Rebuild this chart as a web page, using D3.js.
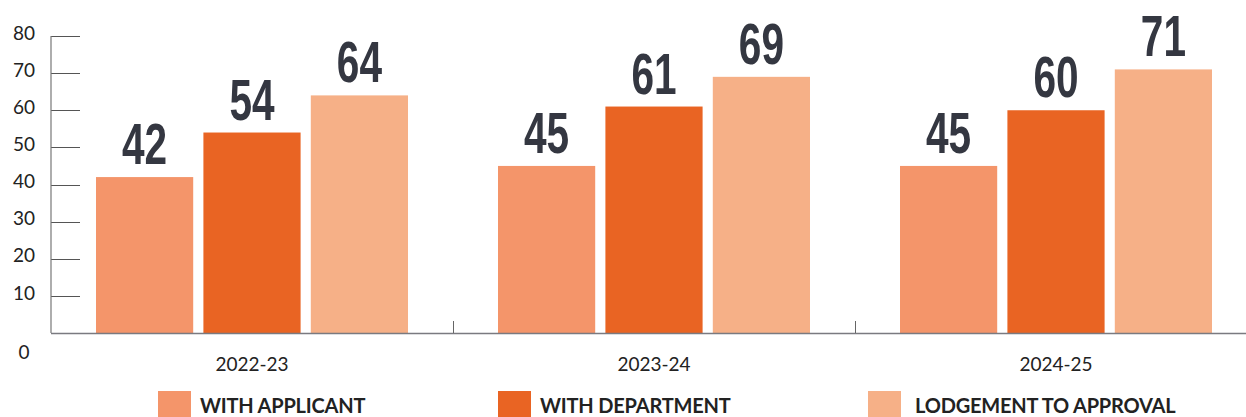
<!DOCTYPE html>
<html>
<head>
<meta charset="utf-8">
<script src="https://cdn.jsdelivr.net/npm/d3@7"></script>
<style>
  html, body { margin: 0; padding: 0; background: #fff; }
  svg { display: block; }
</style>
</head>
<body>
<div id="chart"></div>
<script>
// data
const years = ["2022-23", "2023-24", "2024-25"];
const seriesNames = ["WITH APPLICANT", "WITH DEPARTMENT", "LODGEMENT TO APPROVAL"];
const withApplicant = [42, 45, 45];
const withDepartment = [54, 61, 60];
const lodgementToApproval = [64, 69, 71];
const yTicks = [0, 10, 20, 30, 40, 50, 60, 70, 80];
const colors = ["#F4956A", "#E96423", "#F6B087"];

const W = 1246, H = 417;
const svg = d3.select("#chart").append("svg")
  .attr("width", W).attr("height", H);

const series = [withApplicant, withDepartment, lodgementToApproval];

const x0 = d3.scaleBand().domain(years).range([51, 1257]).paddingInner(0).paddingOuter(0);
const x1 = d3.scaleBand().domain(d3.range(3)).range([45, x0.bandwidth() - 45]).paddingInner(0.095);
const y = d3.scaleLinear().domain([0, 80]).range([333, 36]);

// y axis: short tick lines next to the axis
const yAxis = svg.append("g");
yAxis.selectAll("line.tk")
  .data(yTicks.filter(d => d > 0))
  .join("line")
  .attr("x1", 51).attr("x2", 80)
  .attr("y1", d => Math.round(y(d)) + 0.5).attr("y2", d => Math.round(y(d)) + 0.5)
  .attr("stroke", "#555").attr("stroke-width", 1);
yAxis.append("line")
  .attr("x1", 51).attr("x2", 51).attr("y1", y(80)).attr("y2", y(0))
  .attr("stroke", "#777").attr("stroke-width", 1.2);
yAxis.selectAll("text")
  .data(yTicks)
  .join("text")
  .attr("x", 24)
  .attr("y", d => d === 0 ? y(0) + 19 : y(d) - 3)
  .attr("dy", "0.35em")
  .attr("text-anchor", "middle")
  .style("font-family", "Lato, 'Open Sans', sans-serif")
  .style("font-size", "19px")
  .style("fill", "#222")
  .text(d => d);

// bars
const groups = svg.selectAll("g.grp")
  .data(years)
  .join("g")
  .attr("class", "grp")
  .attr("transform", d => `translate(${x0(d)},0)`);

groups.selectAll("rect")
  .data((d, gi) => series.map((s, si) => ({ si, v: s[gi] })))
  .join("rect")
  .attr("x", d => x1(d.si))
  .attr("width", x1.bandwidth())
  .attr("y", d => y(d.v))
  .attr("height", d => y(0) - y(d.v))
  .attr("fill", d => colors[d.si]);

// value labels, squeezed bold
groups.selectAll("g.lbl")
  .data((d, gi) => series.map((s, si) => ({ si, v: s[gi] })))
  .join("g")
  .attr("class", "lbl")
  .attr("transform", d => `translate(${x1(d.si) + x1.bandwidth() / 2},${y(d.v) - 13}) scale(0.7,1)`)
  .append("text")
  .attr("text-anchor", "middle")
  .style("font-family", "'Liberation Sans', Arial, sans-serif")
  .style("font-weight", "bold")
  .style("font-size", "58px")
  .style("fill", "#343741")
  .text(d => d.v);

// x axis
const xAxis = svg.append("g");
xAxis.append("line")
  .attr("x1", 51).attr("x2", W).attr("y1", y(0) + 0.5).attr("y2", y(0) + 0.5)
  .attr("stroke", "#7a7a80").attr("stroke-width", 1.5);
xAxis.selectAll("line.sep")
  .data(years.slice(1))
  .join("line")
  .attr("class", "sep")
  .attr("x1", d => Math.round(x0(d)) + 0.5).attr("x2", d => Math.round(x0(d)) + 0.5)
  .attr("y1", y(0) - 12).attr("y2", y(0))
  .attr("stroke", "#666").attr("stroke-width", 1);
xAxis.selectAll("text")
  .data(years)
  .join("text")
  .attr("x", d => x0(d) + x0.bandwidth() / 2)
  .attr("y", 364)
  .attr("dy", "0.35em")
  .attr("text-anchor", "middle")
  .style("font-family", "Lato, 'Open Sans', sans-serif")
  .style("font-size", "19px")
  .style("fill", "#222")
  .text(d => d);

// legend
const legendX = [158, 498, 868];
const legend = svg.selectAll("g.leg")
  .data(seriesNames)
  .join("g")
  .attr("class", "leg")
  .attr("transform", (d, i) => `translate(${legendX[i]},391)`);
legend.append("rect")
  .attr("width", 33).attr("height", 30)
  .attr("fill", (d, i) => colors[i]);
legend.append("text")
  .attr("x", (d, i) => i === 2 ? 47 : 42)
  .attr("y", 22)
  .style("font-family", "Lato, sans-serif")
  .style("font-weight", "bold")
  .style("font-size", "20px")
  .style("letter-spacing", "-0.2px")
  .style("fill", "#222")
  .text(d => d);
</script>
</body>
</html>
